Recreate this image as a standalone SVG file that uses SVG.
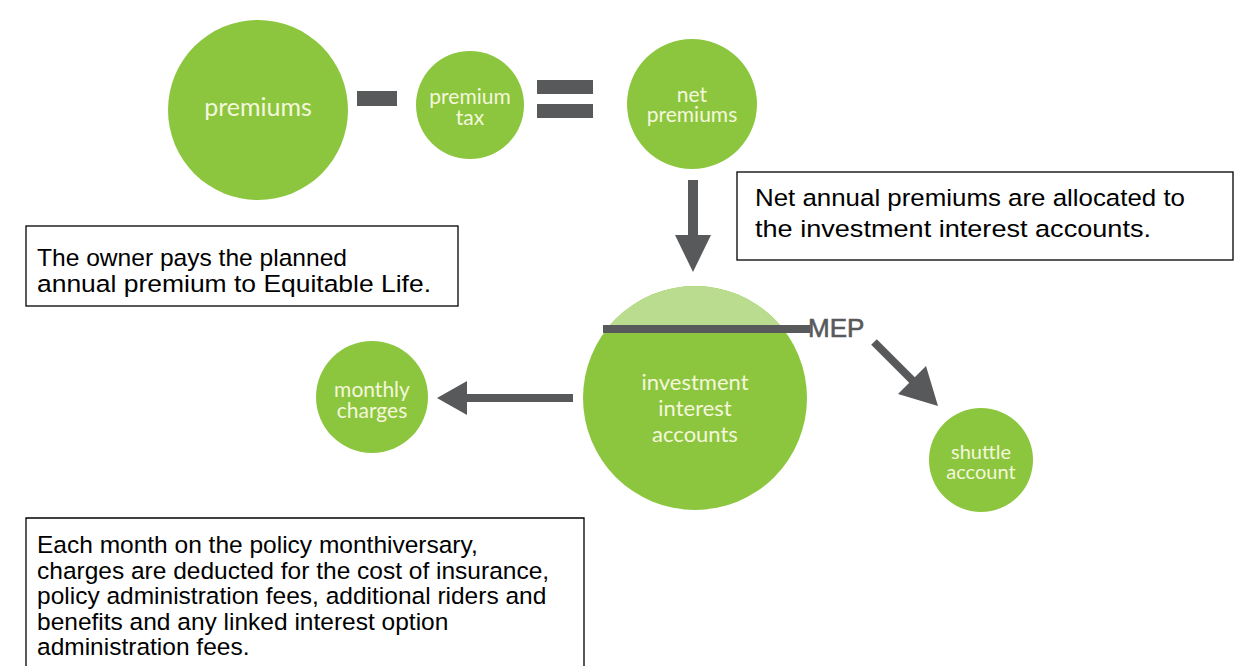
<svg xmlns="http://www.w3.org/2000/svg" width="1236" height="666" viewBox="0 0 1236 666">
<style>
.c{fill:#8cc63f}
.ct{font-family:Lato,"Noto Sans",sans-serif;fill:#f4f7dc;text-anchor:middle}
.op{fill:#58595b}
.box{fill:#fff;stroke:#000;stroke-width:1.3}
.bt{font-family:"Liberation Sans",Arial,sans-serif;font-size:24.5px;fill:#000}
.ln{stroke:#58595b;fill:none}
</style>
<defs>
<clipPath id="capclip"><rect x="560" y="270" width="280" height="59"/></clipPath>
</defs>
<rect width="1236" height="666" fill="#fff"/>

<g id="premiums">
<circle class="c" cx="258" cy="110" r="90"/>
<text class="ct" x="258" y="116" font-size="25">premiums</text>
</g>
<g id="minus"><rect class="op" x="357" y="91" width="40" height="15"/></g>
<g id="premium-tax">
<circle class="c" cx="470" cy="105" r="54"/>
<text class="ct" x="470" y="104" font-size="21">premium</text>
<text class="ct" x="470" y="125" font-size="21">tax</text>
</g>
<g id="equals">
<rect class="op" x="537" y="80" width="56" height="14"/>
<rect class="op" x="537" y="104" width="56" height="14"/>
</g>
<g id="net-premiums">
<circle class="c" cx="692" cy="104" r="65"/>
<text class="ct" x="692" y="102" font-size="21">net</text>
<text class="ct" x="692" y="122" font-size="21">premiums</text>
</g>

<g id="investment">
<circle class="c" cx="695" cy="398" r="112"/>
<circle cx="695" cy="398" r="112" fill="#b9dc8e" clip-path="url(#capclip)"/>
<text class="ct" x="695" y="390" font-size="22">investment</text>
<text class="ct" x="695" y="416" font-size="22">interest</text>
<text class="ct" x="695" y="442" font-size="22">accounts</text>
</g>
<g id="mep">
<rect class="op" x="603" y="325" width="207" height="8"/>
<text x="808" y="337" font-family="'Liberation Sans',Arial,sans-serif" font-size="26" fill="#58595b" stroke="#58595b" stroke-width="0.6">MEP</text>
</g>
<g id="monthly-charges">
<circle class="c" cx="372" cy="397" r="56"/>
<text class="ct" x="372" y="397" font-size="21">monthly</text>
<text class="ct" x="372" y="418" font-size="21">charges</text>
</g>
<g id="shuttle-account">
<circle class="c" cx="981" cy="460" r="52"/>
<text class="ct" x="981" y="459" font-size="20">shuttle</text>
<text class="ct" x="981" y="479" font-size="20">account</text>
</g>

<g id="connectors">
<rect class="op" x="688" y="180" width="10" height="58"/>
<polygon class="op" points="675,235 711,235 693,272"/>
<rect class="op" x="462" y="394" width="111" height="8"/>
<polygon class="op" points="437,398 467,381 467,415"/>
<line class="ln" x1="874" y1="342" x2="916" y2="384" stroke-width="8"/>
<polygon class="op" points="938,406 898,394 926,366"/>
</g>

<g id="note-owner">
<rect class="box" x="26" y="226" width="432" height="80"/>
<text class="bt" x="37" y="266" textLength="310" lengthAdjust="spacingAndGlyphs">The owner pays the planned</text>
<text class="bt" x="37" y="292" textLength="394" lengthAdjust="spacingAndGlyphs">annual premium to Equitable Life.</text>
</g>
<g id="note-net">
<rect class="box" x="737" y="172" width="496" height="88"/>
<text class="bt" x="755" y="206" font-size="26" textLength="430" lengthAdjust="spacingAndGlyphs">Net annual premiums are allocated to</text>
<text class="bt" x="755" y="237" font-size="26" textLength="396" lengthAdjust="spacingAndGlyphs">the investment interest accounts.</text>
</g>
<g id="note-monthly">
<path class="box" d="M26,667 V518 H584 V667"/>
<text class="bt" x="37" y="553">Each month on the policy monthiversary,</text>
<text class="bt" x="37" y="578.5">charges are deducted for the cost of insurance,</text>
<text class="bt" x="37" y="604">policy administration fees, additional riders and</text>
<text class="bt" x="37" y="629.5">benefits and any linked interest option</text>
<text class="bt" x="37" y="655">administration fees.</text>
</g>
</svg>
